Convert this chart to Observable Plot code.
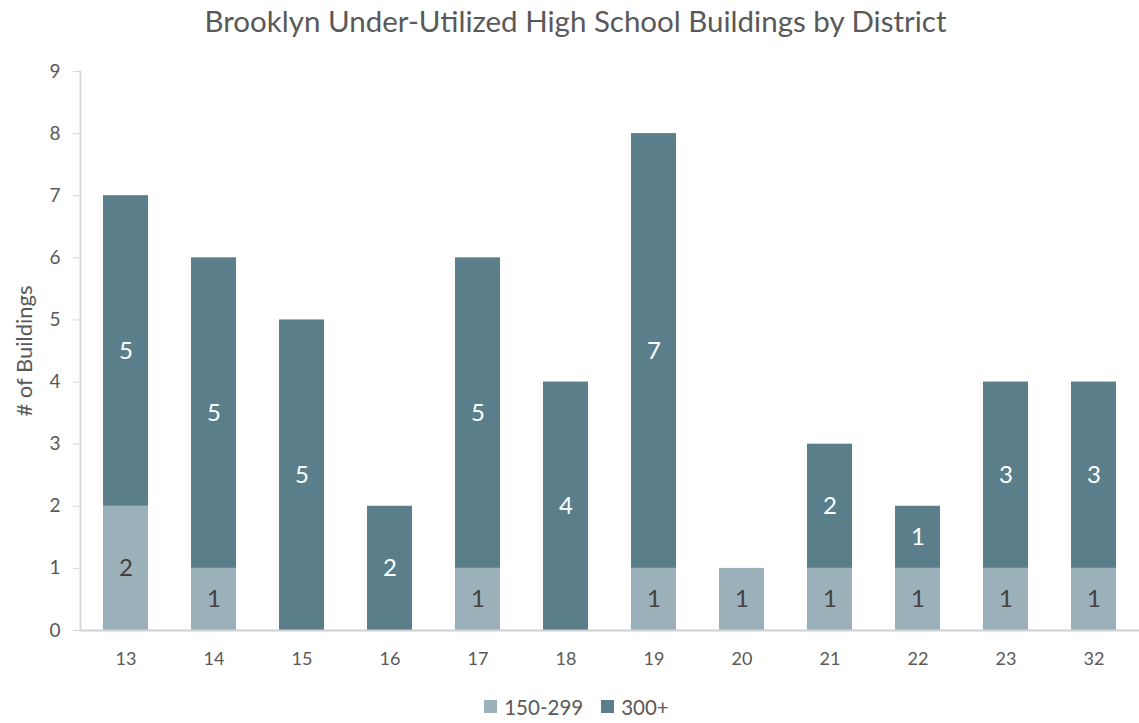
<!DOCTYPE html>
<html>
<head>
<meta charset="utf-8">
<script src="https://cdn.jsdelivr.net/npm/d3@7"></script>
<script src="https://cdn.jsdelivr.net/npm/@observablehq/plot@0.6"></script>
<style>
  html, body { margin: 0; padding: 0; background: #fff; }
  body { width: 1139px; height: 723px; overflow: hidden; font-family: Lato, "Open Sans", sans-serif; color: #595959; }
  #title { height: 45px; line-height: 42px; text-align: center; font-size: 29.5px; color: #595959; padding-left: 12px; }
  #chart svg { display: block; }
  #legend { display: flex; justify-content: center; align-items: center; gap: 18px; font-size: 20.5px; color: #595959; height: 33px; padding-left: 14px; }
  #legend .item { display: flex; align-items: center; gap: 7px; }
  #legend .sw { width: 13px; height: 13px; display: inline-block; }
</style>
</head>
<body>
<div id="title">Brooklyn Under-Utilized High School Buildings by District</div>
<div id="chart"></div>
<div id="legend"></div>
<script>
const districts = ["13","14","15","16","17","18","19","20","21","22","23","32"];
const series = ["150-299", "300+"];
const small = [2, 1, 0, 0, 1, 0, 1, 1, 1, 1, 1, 1];   // 150-299
const large = [5, 5, 5, 2, 5, 4, 7, 0, 2, 1, 3, 3];   // 300+
const yTicks = [0,1,2,3,4,5,6,7,8,9];
const colors = ["#9bb1ba", "#5a7f8b"];
const labelColors = ["#404040", "#ffffff"];

const rows = [];
districts.forEach((d, i) => rows.push({district: d, series: series[0], value: small[i]}));
districts.forEach((d, i) => rows.push({district: d, series: series[1], value: large[i]}));

const chart = Plot.plot({
  width: 1139,
  height: 645,
  marginTop: 26,
  marginLeft: 80,
  marginRight: 0,
  marginBottom: 60,
  style: {fontFamily: "Lato, 'Open Sans', sans-serif", fontSize: "18px", color: "#595959", background: "#fff"},
  x: {domain: districts, paddingInner: 0.49, paddingOuter: 0.255, label: null, tickSize: 0, tickPadding: 20},
  y: {domain: [0, 9], ticks: yTicks, tickFormat: d3.format("d"), label: null},
  color: {domain: series, range: colors},
  marks: [
    Plot.barY(rows, Plot.stackY({x: "district", y: "value", z: "series", fill: "series", order: null})),
    Plot.text(rows, Plot.stackY({
      x: "district", y: "value", z: "series", order: null,
      text: d => d.value > 0 ? String(d.value) : "",
      fill: d => labelColors[series.indexOf(d.series)],
      fontSize: 24
    })),
    Plot.ruleY([0], {stroke: "#d0d0d0", strokeWidth: 2}),
    Plot.frame({anchor: "left", stroke: "#d9d9d9", strokeWidth: 2}),
    Plot.axisY({ticks: yTicks, tickFormat: d3.format("d"), tickSize: 7, tickPadding: 13, stroke: "#d9d9d9", fill: "#595959", fontSize: 19,
      label: "# of Buildings", labelAnchor: "center", labelArrow: "none", labelOffset: 64}),
    Plot.axisX({tickSize: 0, tickPadding: 22, fill: "#595959", fontSize: 18, label: null})
  ]
});
document.getElementById("chart").appendChild(chart);
// enlarge the y-axis title a little
chart.querySelectorAll("[aria-label='y-axis label'] text").forEach(t => t.setAttribute("font-size", 22));

const legend = document.getElementById("legend");
series.forEach((s, i) => {
  const item = document.createElement("span");
  item.className = "item";
  const sw = document.createElement("span");
  sw.className = "sw";
  sw.style.background = colors[i];
  const t = document.createElement("span");
  t.textContent = s;
  item.appendChild(sw);
  item.appendChild(t);
  legend.appendChild(item);
});
</script>
</body>
</html>
